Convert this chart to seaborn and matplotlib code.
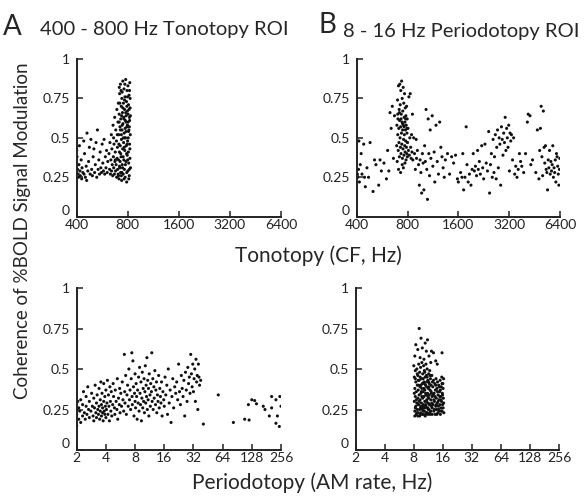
import pandas as pd
import matplotlib
matplotlib.use("Agg")
import matplotlib.pyplot as plt
import seaborn as sns

# Panel A (top): 400-800 Hz tonotopy ROI, coherence vs CF (Hz)
tono_roi_pts = [
    (400, 0.42), (402, 0.38), (405, 0.30), (408, 0.27), (410, 0.25), (412, 0.33), (415, 0.45), (418, 0.29),
    (420, 0.26), (425, 0.36), (428, 0.24), (430, 0.31), (435, 0.28), (440, 0.48), (442, 0.27), (445, 0.40),
    (450, 0.25), (455, 0.32), (458, 0.23), (460, 0.53), (465, 0.29), (470, 0.35), (475, 0.44), (480, 0.27),
    (485, 0.49), (490, 0.30), (495, 0.26), (500, 0.38), (505, 0.43), (510, 0.28), (515, 0.33), (520, 0.47),
    (525, 0.25), (530, 0.55), (535, 0.30), (540, 0.36), (545, 0.27), (550, 0.41), (555, 0.31), (560, 0.28),
    (565, 0.46), (570, 0.34), (575, 0.29), (580, 0.49), (585, 0.27), (590, 0.38), (595, 0.31), (600, 0.42),
    (605, 0.28), (610, 0.35),
    (620, 0.40), (625, 0.30), (628, 0.47), (632, 0.27), (636, 0.36), (640, 0.52), (642, 0.29), (645, 0.43),
    (648, 0.33), (652, 0.26), (655, 0.58), (658, 0.38), (661, 0.31), (664, 0.46), (667, 0.27), (670, 0.63),
    (672, 0.35), (675, 0.41), (678, 0.29), (680, 0.55), (683, 0.33), (686, 0.48), (688, 0.25), (690, 0.68),
    (692, 0.37), (695, 0.44), (697, 0.30), (700, 0.60), (702, 0.27), (704, 0.72),
    (706, 0.36), (708, 0.52), (710, 0.24), (712, 0.65), (714, 0.41), (716, 0.78), (718, 0.31), (720, 0.57),
    (722, 0.45), (724, 0.84), (726, 0.28), (728, 0.62), (730, 0.38), (732, 0.70), (734, 0.49), (736, 0.23),
    (738, 0.75), (740, 0.55), (742, 0.33), (744, 0.66), (746, 0.43), (748, 0.86), (750, 0.59), (752, 0.27),
    (754, 0.72), (756, 0.47), (758, 0.36), (760, 0.81), (762, 0.53), (764, 0.30), (766, 0.68), (768, 0.42),
    (770, 0.76), (772, 0.25), (774, 0.61), (776, 0.50), (778, 0.87), (780, 0.35), (782, 0.64), (784, 0.45),
    (786, 0.73), (788, 0.22), (790, 0.57), (792, 0.80), (794, 0.39), (796, 0.67), (798, 0.48), (800, 0.29),
    (802, 0.83), (804, 0.60), (806, 0.41), (808, 0.71), (810, 0.34), (812, 0.55), (814, 0.77), (816, 0.26),
    (818, 0.63), (820, 0.46), (822, 0.85), (824, 0.37), (826, 0.69), (828, 0.52), (830, 0.31),
    (712, 0.60), (718, 0.72), (724, 0.55), (730, 0.80), (736, 0.64), (742, 0.58), (748, 0.69), (754, 0.50),
    (760, 0.62), (766, 0.74), (772, 0.56), (778, 0.66), (784, 0.60), (790, 0.70), (796, 0.58), (802, 0.65),
    (808, 0.54), (814, 0.68), (820, 0.61), (826, 0.75), (715, 0.32), (727, 0.40), (739, 0.28), (751, 0.38),
    (763, 0.44), (775, 0.33), (787, 0.40), (799, 0.36), (811, 0.24), (823, 0.43),
    (709, 0.46), (721, 0.35), (733, 0.52), (745, 0.31), (757, 0.63), (769, 0.50), (781, 0.54), (793, 0.46),
    (805, 0.50), (817, 0.57), (829, 0.64), (713, 0.82), (741, 0.79), (769, 0.84), (797, 0.76), (819, 0.80),
    (705, 0.26), (733, 0.26), (761, 0.24), (789, 0.28), (817, 0.30), (660, 0.50), (676, 0.36), (694, 0.52),
]

# Panel B (top): 8-16 Hz periodotopy ROI, coherence vs CF (Hz)
perio_roi_tono_pts = [
    (400, 0.25), (402, 0.26), (404, 0.27), (406, 0.25), (410, 0.30), (412, 0.48), (415, 0.22), (420, 0.33),
    (425, 0.40), (430, 0.27), (440, 0.46), (445, 0.25), (450, 0.19), (460, 0.31), (470, 0.25), (480, 0.47),
    (500, 0.16), (510, 0.36), (520, 0.33), (540, 0.20), (550, 0.36), (560, 0.29), (580, 0.34), (600, 0.24),
    (610, 0.42), (620, 0.29), (630, 0.66), (640, 0.56), (650, 0.70), (660, 0.37), (670, 0.64),
    (690, 0.45), (692, 0.58), (695, 0.35), (698, 0.74), (700, 0.52), (702, 0.62), (705, 0.42), (707, 0.83),
    (710, 0.56), (712, 0.47), (714, 0.68), (716, 0.38), (718, 0.61), (720, 0.84), (722, 0.50), (724, 0.71),
    (726, 0.44), (728, 0.57), (730, 0.80), (732, 0.40), (734, 0.65), (736, 0.53), (738, 0.86), (740, 0.46),
    (742, 0.60), (744, 0.75), (746, 0.37), (748, 0.55), (750, 0.67), (752, 0.43), (754, 0.82), (756, 0.58),
    (758, 0.49), (760, 0.72), (762, 0.39), (764, 0.63), (766, 0.52), (768, 0.78), (770, 0.45), (772, 0.60),
    (774, 0.41), (776, 0.69), (778, 0.55), (780, 0.48), (782, 0.64), (784, 0.36), (786, 0.58), (788, 0.44),
    (790, 0.70), (792, 0.40), (794, 0.53), (796, 0.62), (798, 0.38), (800, 0.47), (805, 0.56), (810, 0.42),
    (815, 0.76), (820, 0.39), (825, 0.50), (830, 0.78), (835, 0.44), (840, 0.37), (845, 0.52), (850, 0.41),
    (855, 0.65), (860, 0.36), (708, 0.30), (728, 0.28), (744, 0.33), (756, 0.31), (772, 0.34), (700, 0.65),
    (716, 0.66), (732, 0.62), (748, 0.59), (764, 0.57), (780, 0.62), (796, 0.56),
    (870, 0.50), (880, 0.40), (890, 0.30), (900, 0.49), (905, 0.37), (915, 0.42), (930, 0.33), (940, 0.20),
    (950, 0.36), (960, 0.28), (970, 0.15), (980, 0.40), (990, 0.34), (1000, 0.17), (1010, 0.45), (1020, 0.35),
    (1030, 0.68), (1040, 0.30), (1050, 0.11), (1060, 0.62), (1070, 0.40), (1080, 0.26), (1090, 0.55),
    (1100, 0.37), (1120, 0.64), (1130, 0.32), (1150, 0.41), (1160, 0.22), (1180, 0.58), (1200, 0.35),
    (1220, 0.27), (1240, 0.60), (1260, 0.44), (1280, 0.38), (1300, 0.31), (1320, 0.25), (1340, 0.36),
    (1380, 0.40), (1420, 0.27), (1460, 0.38), (1500, 0.34), (1540, 0.39), (1580, 0.24), (1600, 0.22),
    (1650, 0.28), (1680, 0.25), (1700, 0.40), (1720, 0.17), (1750, 0.25), (1780, 0.57), (1800, 0.33),
    (1830, 0.22), (1860, 0.27), (1900, 0.20), (1930, 0.30), (1960, 0.40), (1990, 0.29), (2020, 0.32),
    (2050, 0.26), (2080, 0.42), (2100, 0.30), (2130, 0.35), (2160, 0.27), (2200, 0.45), (2230, 0.31),
    (2260, 0.24), (2300, 0.46), (2340, 0.34), (2380, 0.29), (2420, 0.54), (2450, 0.15), (2480, 0.33),
    (2510, 0.40), (2540, 0.25), (2570, 0.49), (2600, 0.28),
    (2620, 0.38), (2650, 0.52), (2680, 0.24), (2700, 0.44), (2730, 0.55), (2760, 0.31), (2790, 0.50),
    (2820, 0.46), (2850, 0.20), (2880, 0.57), (2910, 0.49), (2940, 0.39), (2970, 0.53), (3000, 0.47),
    (3030, 0.63), (3060, 0.42), (3090, 0.56), (3120, 0.50), (3150, 0.44), (3180, 0.58), (3210, 0.29),
    (3240, 0.53), (3270, 0.48), (3300, 0.52), (3350, 0.36), (3400, 0.50), (3450, 0.27), (3500, 0.32),
    (3560, 0.25), (3620, 0.30), (3680, 0.40), (3740, 0.35),
    (3800, 0.32), (3900, 0.28), (4000, 0.40), (4100, 0.60), (4150, 0.65), (4250, 0.64), (4300, 0.33),
    (4400, 0.36), (4600, 0.28), (4700, 0.55), (4800, 0.24), (4850, 0.42), (4900, 0.56), (4950, 0.70),
    (5000, 0.38), (5050, 0.26), (5100, 0.67), (5150, 0.44), (5200, 0.34),
    (5250, 0.45), (5300, 0.30), (5350, 0.28), (5400, 0.17), (5450, 0.36), (5500, 0.31), (5550, 0.42),
    (5600, 0.27), (5650, 0.35), (5700, 0.29), (5750, 0.33), (5800, 0.45), (5850, 0.25), (5900, 0.31),
    (5950, 0.28), (6000, 0.36), (6050, 0.22), (6100, 0.40), (6150, 0.38), (6200, 0.32), (6250, 0.27),
    (6300, 0.20), (6350, 0.30), (6380, 0.37),
]

# Panel A (bottom): 400-800 Hz tonotopy ROI, coherence vs AM rate (Hz)
tono_roi_perio_pts = [
    (2.0, 0.15), (2.0, 0.22), (2.05, 0.30), (2.1, 0.19), (2.1, 0.26), (2.15, 0.24), (2.2, 0.31), (2.2, 0.17),
    (2.3, 0.21), (2.3, 0.28), (2.35, 0.36), (2.4, 0.23), (2.45, 0.19), (2.5, 0.27), (2.5, 0.33), (2.55, 0.22),
    (2.6, 0.39), (2.65, 0.25), (2.7, 0.20), (2.7, 0.30), (2.8, 0.24), (2.85, 0.35), (2.9, 0.27), (2.95, 0.21),
    (3.0, 0.32), (3.0, 0.18),
    (3.05, 0.26), (3.1, 0.40), (3.15, 0.23), (3.2, 0.29), (3.2, 0.20), (3.25, 0.34), (3.3, 0.25), (3.35, 0.22),
    (3.4, 0.38), (3.4, 0.27), (3.45, 0.19), (3.5, 0.31), (3.5, 0.24), (3.55, 0.42), (3.6, 0.21), (3.6, 0.28),
    (3.65, 0.35), (3.7, 0.23), (3.7, 0.26), (3.75, 0.18), (3.8, 0.30), (3.8, 0.41), (3.85, 0.24), (3.9, 0.22),
    (3.9, 0.33), (3.95, 0.27), (4.0, 0.20), (4.0, 0.37),
    (4.05, 0.25), (4.1, 0.29), (4.15, 0.43), (4.2, 0.22), (4.25, 0.34), (4.3, 0.27), (4.35, 0.18), (4.4, 0.39),
    (4.45, 0.30), (4.5, 0.24), (4.55, 0.36), (4.6, 0.21), (4.7, 0.28), (4.75, 0.41), (4.8, 0.33), (4.9, 0.26),
    (4.95, 0.22), (5.0, 0.37), (5.1, 0.30), (5.2, 0.25), (5.25, 0.44), (5.3, 0.19), (5.4, 0.32), (5.5, 0.28),
    (5.55, 0.38), (5.6, 0.23), (5.7, 0.35), (5.8, 0.27), (5.9, 0.42), (6.0, 0.31),
    (6.1, 0.24), (6.2, 0.59), (6.25, 0.36), (6.3, 0.29), (6.4, 0.46), (6.5, 0.22), (6.6, 0.34), (6.7, 0.40),
    (6.8, 0.27), (6.9, 0.50), (7.0, 0.31), (7.1, 0.37), (7.2, 0.25), (7.3, 0.44), (7.4, 0.60), (7.45, 0.33),
    (7.5, 0.28), (7.6, 0.55), (7.7, 0.39), (7.8, 0.21), (7.9, 0.35), (8.0, 0.30), (8.0, 0.47),
    (8.1, 0.26), (8.2, 0.41), (8.3, 0.33), (8.4, 0.19), (8.5, 0.37), (8.6, 0.29), (8.7, 0.45), (8.8, 0.24),
    (8.9, 0.51), (9.0, 0.35), (9.1, 0.28), (9.2, 0.42), (9.3, 0.18), (9.4, 0.32), (9.5, 0.48), (9.6, 0.26),
    (9.7, 0.38), (9.8, 0.30), (9.9, 0.44), (10.0, 0.23), (10.1, 0.36), (10.2, 0.52), (10.3, 0.29), (10.4, 0.40),
    (10.5, 0.33), (10.6, 0.57), (10.7, 0.25), (10.8, 0.43), (10.9, 0.31), (11.0, 0.38), (11.1, 0.21),
    (11.2, 0.47), (11.4, 0.34), (11.5, 0.27), (11.6, 0.41), (11.8, 0.36), (11.9, 0.60), (12.0, 0.30),
    (12.2, 0.44), (12.3, 0.25), (12.5, 0.39), (12.6, 0.32), (12.8, 0.49), (13.0, 0.28), (13.1, 0.37),
    (13.3, 0.42), (13.4, 0.23), (13.6, 0.34), (13.8, 0.30), (14.0, 0.46), (14.2, 0.26), (14.4, 0.38),
    (14.6, 0.33), (14.8, 0.29), (15.0, 0.42), (15.2, 0.21), (15.5, 0.36), (15.8, 0.31), (16.0, 0.27),
    (16.3, 0.45), (16.6, 0.34), (17.0, 0.40), (17.3, 0.22), (17.6, 0.50), (18.0, 0.29), (18.4, 0.37),
    (18.8, 0.17), (19.2, 0.33), (19.6, 0.44), (20.0, 0.26), (20.5, 0.39), (21.0, 0.35), (21.5, 0.42),
    (22.0, 0.31), (22.5, 0.53), (23.0, 0.36), (23.5, 0.28), (24.0, 0.46),
    (24.5, 0.38), (25.0, 0.33), (25.5, 0.43), (26.0, 0.21), (26.5, 0.48), (27.0, 0.37), (27.5, 0.30),
    (28.0, 0.51), (28.5, 0.41), (29.0, 0.45), (29.5, 0.35), (30.0, 0.59), (30.5, 0.47), (31.0, 0.39),
    (31.5, 0.53), (32.0, 0.36), (32.5, 0.44), (33.0, 0.50), (33.5, 0.30), (34.0, 0.56), (34.5, 0.42),
    (35.0, 0.46), (35.5, 0.25), (36.0, 0.53), (36.5, 0.45), (37.0, 0.40), (38.0, 0.43),
    (40.5, 0.16), (57.7, 0.34), (82.6, 0.17), (108, 0.19), (120, 0.185), (118, 0.28), (128, 0.31),
    (137, 0.305), (143, 0.285), (168, 0.27), (175, 0.25), (194, 0.21), (205, 0.26), (205, 0.33),
    (227, 0.31), (235, 0.21), (227, 0.165), (246, 0.145), (249, 0.33), (256, 0.27),
]

# Panel B (bottom): 8-16 Hz periodotopy ROI, coherence vs AM rate (Hz)
perio_roi_pts = [
    (9.1, 0.75), (9.5, 0.69), (11.1, 0.68), (10.5, 0.66), (8.4, 0.65), (8.8, 0.62), (9.8, 0.63), (10.8, 0.61),
    (12.2, 0.61), (12.8, 0.60), (15.7, 0.60), (11.5, 0.58), (8.2, 0.58), (9.3, 0.57), (13.5, 0.55),
    (10.2, 0.56), (12.0, 0.54), (14.0, 0.53),
    (8.0, 0.52), (8.1, 0.45), (8.1, 0.30), (8.2, 0.38), (8.2, 0.24), (8.3, 0.49), (8.3, 0.33), (8.4, 0.27),
    (8.4, 0.42), (8.5, 0.22), (8.5, 0.36), (8.6, 0.50), (8.6, 0.29), (8.7, 0.40), (8.7, 0.25), (8.8, 0.46),
    (8.8, 0.32), (8.9, 0.23), (8.9, 0.37), (9.0, 0.53), (9.0, 0.28), (9.1, 0.43), (9.1, 0.34), (9.2, 0.21),
    (9.2, 0.48), (9.3, 0.31), (9.3, 0.39), (9.4, 0.26), (9.4, 0.51), (9.5, 0.35), (9.5, 0.23), (9.6, 0.44),
    (9.6, 0.29), (9.7, 0.38), (9.7, 0.54), (9.8, 0.25), (9.8, 0.41), (9.9, 0.32), (9.9, 0.47), (10.0, 0.22),
    (10.0, 0.36), (10.1, 0.52), (10.1, 0.28), (10.2, 0.42), (10.2, 0.33), (10.3, 0.24), (10.3, 0.49),
    (10.4, 0.37), (10.4, 0.30), (10.5, 0.45), (10.5, 0.21), (10.6, 0.40), (10.6, 0.27), (10.7, 0.53),
    (10.7, 0.34), (10.8, 0.23), (10.8, 0.46), (10.9, 0.31), (10.9, 0.39), (11.0, 0.26), (11.0, 0.50),
    (11.1, 0.35), (11.2, 0.43), (11.2, 0.22), (11.3, 0.29), (11.3, 0.38), (11.4, 0.47), (11.4, 0.32),
    (11.5, 0.25), (11.6, 0.41), (11.6, 0.34), (11.7, 0.23), (11.7, 0.49), (11.8, 0.28), (11.8, 0.37),
    (11.9, 0.44), (12.0, 0.31), (12.0, 0.24), (12.1, 0.40), (12.2, 0.27), (12.2, 0.35), (12.3, 0.46),
    (12.4, 0.22), (12.4, 0.33),
    (12.6, 0.39), (12.7, 0.28), (12.8, 0.43), (12.9, 0.24), (13.0, 0.35), (13.1, 0.30), (13.2, 0.41),
    (13.3, 0.22), (13.4, 0.37), (13.5, 0.27), (13.6, 0.44), (13.7, 0.32), (13.8, 0.25), (13.9, 0.38),
    (14.0, 0.29), (14.1, 0.42), (14.2, 0.23), (14.3, 0.34), (14.4, 0.27), (14.5, 0.40), (14.6, 0.31),
    (14.7, 0.24), (14.8, 0.36), (14.9, 0.28), (15.0, 0.43), (15.1, 0.22), (15.2, 0.33), (15.3, 0.26),
    (15.4, 0.39), (15.5, 0.30), (15.6, 0.45), (15.7, 0.24), (15.8, 0.35), (15.9, 0.28), (16.0, 0.41),
    (16.1, 0.26), (16.2, 0.32), (16.3, 0.44), (16.4, 0.23),
    (8.3, 0.26), (8.6, 0.23), (8.9, 0.28), (9.2, 0.25), (9.5, 0.27), (9.8, 0.22), (10.1, 0.24), (10.4, 0.26),
    (10.7, 0.28), (11.0, 0.23), (11.3, 0.25), (9.0, 0.40), (9.6, 0.36), (10.3, 0.41), (10.9, 0.42),
    (11.5, 0.39),
    (8.1, 0.35), (8.3, 0.44), (8.5, 0.31), (8.7, 0.47), (8.9, 0.43), (9.1, 0.30), (9.3, 0.45), (9.5, 0.40),
    (9.7, 0.33), (9.9, 0.27), (10.0, 0.44), (10.2, 0.38), (10.4, 0.48), (10.6, 0.35), (10.8, 0.30),
    (11.0, 0.45), (11.2, 0.33), (11.4, 0.42), (11.6, 0.28), (11.8, 0.46), (12.1, 0.36), (12.3, 0.29),
    (12.5, 0.42), (12.7, 0.34), (12.9, 0.31), (13.1, 0.25), (13.3, 0.33), (13.5, 0.40), (13.7, 0.28),
    (13.9, 0.22), (14.1, 0.36), (14.3, 0.30), (14.5, 0.25), (14.7, 0.39), (14.9, 0.33), (15.1, 0.37),
    (15.3, 0.31), (15.5, 0.24), (15.7, 0.41), (15.9, 0.34), (16.1, 0.38), (16.3, 0.29), (8.2, 0.21),
    (8.8, 0.21), (9.4, 0.22), (10.0, 0.26), (10.6, 0.22), (11.2, 0.26), (11.8, 0.22), (12.4, 0.26),
]

cf_ticks = [400, 800, 1600, 3200, 6400]
am_ticks = [2, 4, 8, 16, 32, 64, 128, 256]
y_ticks = [0, 0.25, 0.5, 0.75, 1]
y_labels = ["0", "0.25", "0.5", "0.75", "1"]

sns.set_style("ticks")
plt.rcParams["font.family"] = ["Lato", "DejaVu Sans"]

fig = plt.figure(figsize=(5.85, 4.98), dpi=100)
W, H = 585, 498


def px_axes(x0, y0, x1, y1):
    return fig.add_axes([x0 / W, 1 - y1 / H, (x1 - x0) / W, (y1 - y0) / H])


ax_ta = px_axes(76.7, 59, 281, 216.7)
ax_tb = px_axes(356.7, 59, 560, 216.7)
ax_pa = px_axes(76.7, 288, 281, 450)
ax_pb = px_axes(355.7, 288, 559, 450)

panels = [
    (ax_ta, tono_roi_pts, cf_ticks),
    (ax_tb, perio_roi_tono_pts, cf_ticks),
    (ax_pa, tono_roi_perio_pts, am_ticks),
    (ax_pb, perio_roi_pts, am_ticks),
]

for ax, pts, xt in panels:
    df = pd.DataFrame(pts, columns=["rate", "coherence"])
    sns.scatterplot(data=df, x="rate", y="coherence", ax=ax, s=5, color="#111111",
                    edgecolor="none", linewidth=0, legend=False)
    ax.set_xscale("log", base=2)
    ax.set_xlim(xt[0], xt[-1])
    ax.set_ylim(0, 1)
    ax.set_xticks(xt)
    ax.set_xticklabels([str(t) for t in xt])
    ax.minorticks_off()
    ax.set_yticks(y_ticks)
    ax.set_yticklabels(y_labels)
    ax.set_xlabel("")
    ax.set_ylabel("")
    ax.tick_params(direction="in", length=4, width=1.1, labelsize=10, colors="#222222")
    ax.tick_params(axis="x", pad=1.5)
    ax.tick_params(axis="y", pad=5)
    for side in ["top", "right"]:
        ax.spines[side].set_visible(False)
    for side in ["left", "bottom"]:
        ax.spines[side].set_linewidth(1.4)
        ax.spines[side].set_color("#222222")
    # lift the "0" label a little so it sits clear of the first x label
    ax.get_yticklabels()[0].set_verticalalignment("bottom")

# panel letters and titles
fig.text(3 / W, 1 - 35 / H, "A", fontsize=20, ha="left", va="baseline")
fig.text(40 / W, 1 - 35 / H, "400 - 800 Hz Tonotopy ROI", fontsize=14.5, ha="left", va="baseline")
fig.text(319 / W, 1 - 33 / H, "B", fontsize=20, ha="left", va="baseline")
fig.text(343 / W, 1 - 37 / H, "8 - 16 Hz Periodotopy ROI", fontsize=14.5, ha="left", va="baseline")

# shared axis labels
fig.text(318 / W, 1 - 256 / H, "Tonotopy (CF, Hz)", fontsize=15, ha="center", va="center")
fig.text(312 / W, 1 - 483 / H, "Periodotopy (AM rate, Hz)", fontsize=15, ha="center", va="center")
fig.text(23 / W, 1 - 231 / H, "Coherence of %BOLD Signal Modulation", fontsize=13.5,
         ha="center", va="center", rotation=90)

fig.savefig("out.png", dpi=100)
